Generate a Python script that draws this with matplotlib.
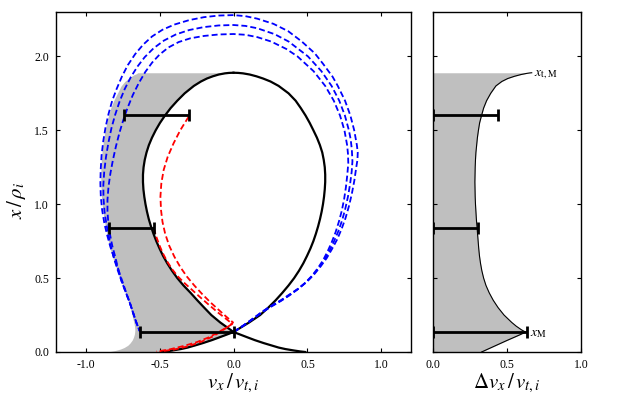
"""Phase-space orbit plot: x/rho_i against v_x/v_t,i, with the velocity spread panel."""

import matplotlib
import numpy as np

matplotlib.use("Agg")
import matplotlib.pyplot as plt  # noqa: E402
from matplotlib.ticker import FormatStrFormatter  # noqa: E402

plt.rcParams["font.family"] = ["Liberation Serif", "DejaVu Serif"]
plt.rcParams["mathtext.fontset"] = "stix"
plt.rcParams["axes.unicode_minus"] = False
plt.rcParams["lines.scale_dashes"] = False

# heights x / rho_i shared by the loop, the shading and the right panel
x_grid = [0.0, 0.004, 0.01, 0.02, 0.03, 0.045, 0.06, 0.08, 0.10, 0.12,
          0.135, 0.15, 0.175, 0.20, 0.25, 0.30, 0.35, 0.40, 0.45, 0.50,
          0.55, 0.60, 0.65, 0.70, 0.75, 0.80, 0.85, 0.90, 0.95, 1.00,
          1.05, 1.10, 1.15, 1.20, 1.25, 1.30, 1.35, 1.40, 1.45, 1.50,
          1.55, 1.60, 1.65, 1.70, 1.75, 1.80, 1.83, 1.85, 1.865, 1.877,
          1.885, 1.888, 1.889]
loop_vx_right = [0.485, 0.45, 0.41, 0.35, 0.305, 0.255, 0.205, 0.145, 0.092, 0.04,
                 0.0, 0.024, 0.065, 0.106, 0.18, 0.235, 0.285, 0.33, 0.372, 0.41,
                 0.443, 0.472, 0.497, 0.52, 0.54, 0.557, 0.572, 0.585, 0.596, 0.605,
                 0.612, 0.617, 0.62, 0.62, 0.617, 0.61, 0.60, 0.584, 0.564, 0.54,
                 0.515, 0.487, 0.455, 0.42, 0.372, 0.305, 0.25, 0.20, 0.155, 0.11,
                 0.064, 0.032, 0.0]
loop_vx_left = [-0.49, -0.455, -0.415, -0.355, -0.31, -0.258, -0.208, -0.147, -0.093, -0.04,
                0.0, -0.02, -0.055, -0.09, -0.15, -0.198, -0.245, -0.29, -0.338, -0.38,
                -0.416, -0.448, -0.476, -0.50, -0.522, -0.541, -0.558, -0.573, -0.585, -0.595,
                -0.603, -0.609, -0.612, -0.612, -0.608, -0.60, -0.588, -0.572, -0.551, -0.526,
                -0.497, -0.463, -0.425, -0.38, -0.33, -0.268, -0.22, -0.18, -0.14, -0.10,
                -0.058, -0.03, 0.0]
shade_vx_left = [-0.86, -0.83, -0.80, -0.764, -0.74, -0.715, -0.70, -0.685, -0.676, -0.67,
                 -0.668, -0.667, -0.669, -0.674, -0.686, -0.698, -0.713, -0.73, -0.748, -0.767,
                 -0.786, -0.804, -0.82, -0.834, -0.846, -0.857, -0.866, -0.875, -0.882, -0.888,
                 -0.892, -0.895, -0.897, -0.897, -0.896, -0.893, -0.889, -0.883, -0.876, -0.867,
                 -0.857, -0.845, -0.83, -0.81, -0.785, -0.76, -0.735, -0.71, -0.69, -0.67,
                 -0.651, -0.651, -0.651]
delta_vx = [0.328, 0.337, 0.35, 0.372, 0.394, 0.427, 0.46, 0.504, 0.55, 0.595,
            0.625, 0.598, 0.562, 0.532, 0.48, 0.44, 0.407, 0.38, 0.358, 0.342,
            0.33, 0.321, 0.314, 0.309, 0.305, 0.301, 0.297, 0.293, 0.29, 0.287,
            0.285, 0.284, 0.283, 0.284, 0.285, 0.287, 0.29, 0.295, 0.30, 0.307,
            0.315, 0.328, 0.342, 0.362, 0.39, 0.425, 0.465, 0.505, 0.55, 0.595,
            0.635, 0.655, 0.667]

# blue dashed orbits (outer, middle, inner): right side upwards, then left side downwards
blue_outer_vx = [0.0, 0.05, 0.10, 0.15, 0.20, 0.26, 0.32, 0.38, 0.44, 0.495,
                 0.545, 0.59, 0.63, 0.665, 0.70, 0.73, 0.757, 0.78, 0.80, 0.817,
                 0.83, 0.838, 0.84, 0.834, 0.816, 0.79, 0.754, 0.705, 0.67, 0.605,
                 0.55, 0.462, 0.37, 0.27, 0.16, 0.08, 0.0,
                 -0.10, -0.20, -0.30, -0.40, -0.48, -0.55, -0.61, -0.665, -0.715, -0.755,
                 -0.79, -0.82, -0.845, -0.865, -0.88, -0.892, -0.898, -0.90, -0.897, -0.888,
                 -0.873, -0.854, -0.832, -0.808, -0.78, -0.752, -0.725, -0.70, -0.677, -0.657,
                 -0.642, -0.632]
blue_outer_x = [0.135, 0.168, 0.203, 0.24, 0.277, 0.315, 0.35, 0.39, 0.43, 0.474,
                0.525, 0.58, 0.635, 0.695, 0.76, 0.83, 0.905, 0.985, 1.07, 1.16,
                1.25, 1.30, 1.35, 1.40, 1.50, 1.60, 1.70, 1.80, 1.862, 1.95,
                2.02, 2.10, 2.17, 2.22, 2.255, 2.272, 2.279,
                2.276, 2.265, 2.245, 2.215, 2.18, 2.135, 2.08, 2.015, 1.94, 1.862,
                1.78, 1.70, 1.61, 1.52, 1.43, 1.33, 1.23, 1.14, 1.05, 0.96,
                0.87, 0.79, 0.71, 0.64, 0.56, 0.48, 0.40, 0.33, 0.26, 0.20,
                0.16, 0.138]
blue_middle_vx = [0.0, 0.05, 0.10, 0.15, 0.20, 0.26, 0.32, 0.38, 0.437, 0.49,
                  0.537, 0.58, 0.617, 0.65, 0.68, 0.71, 0.735, 0.756, 0.774, 0.788,
                  0.799, 0.804, 0.80, 0.792, 0.78, 0.753, 0.715, 0.663, 0.594, 0.503,
                  0.373, 0.278, 0.161, 0.08, 0.0,
                  -0.10, -0.20, -0.30, -0.39, -0.47, -0.54, -0.60, -0.65, -0.695, -0.735,
                  -0.77, -0.80, -0.825, -0.845, -0.862, -0.874, -0.88, -0.879, -0.872, -0.86,
                  -0.845, -0.828, -0.81, -0.785, -0.757, -0.727, -0.70, -0.677, -0.657, -0.642,
                  -0.632]
blue_middle_x = [0.135, 0.167, 0.202, 0.238, 0.275, 0.312, 0.347, 0.387, 0.427, 0.471,
                 0.52, 0.573, 0.628, 0.687, 0.75, 0.82, 0.893, 0.97, 1.052, 1.135,
                 1.22, 1.29, 1.37, 1.44, 1.50, 1.60, 1.70, 1.80, 1.90, 2.00,
                 2.10, 2.15, 2.19, 2.206, 2.212,
                 2.209, 2.198, 2.178, 2.148, 2.107, 2.055, 1.995, 1.93, 1.858, 1.78,
                 1.695, 1.605, 1.515, 1.42, 1.32, 1.22, 1.13, 1.04, 0.95, 0.87,
                 0.79, 0.71, 0.64, 0.56, 0.48, 0.40, 0.33, 0.26, 0.20, 0.16,
                 0.138]
blue_inner_vx = [0.0, 0.05, 0.10, 0.15, 0.20, 0.26, 0.32, 0.38, 0.435, 0.485,
                 0.53, 0.57, 0.605, 0.635, 0.663, 0.69, 0.712, 0.732, 0.748, 0.76,
                 0.769, 0.776, 0.774, 0.768, 0.75, 0.72, 0.678, 0.62, 0.541, 0.432,
                 0.357, 0.255, 0.161, 0.08, 0.0,
                 -0.10, -0.20, -0.292, -0.37, -0.44, -0.50, -0.55, -0.596, -0.64, -0.68,
                 -0.715, -0.745, -0.772, -0.795, -0.815, -0.832, -0.845, -0.852, -0.852, -0.846,
                 -0.834, -0.82, -0.80, -0.78, -0.757, -0.727, -0.70, -0.677, -0.657, -0.642,
                 -0.632]
blue_inner_x = [0.135, 0.167, 0.201, 0.237, 0.273, 0.31, 0.345, 0.384, 0.425, 0.468,
                0.515, 0.567, 0.62, 0.678, 0.74, 0.81, 0.88, 0.955, 1.035, 1.115,
                1.195, 1.277, 1.34, 1.40, 1.50, 1.60, 1.70, 1.80, 1.90, 2.00,
                2.05, 2.10, 2.13, 2.146, 2.151,
                2.148, 2.138, 2.122, 2.097, 2.06, 2.012, 1.958, 1.895, 1.82, 1.74,
                1.655, 1.57, 1.48, 1.39, 1.30, 1.21, 1.12, 1.03, 0.95, 0.87,
                0.79, 0.72, 0.645, 0.565, 0.48, 0.40, 0.33, 0.26, 0.20, 0.16,
                0.138]

# red dashed orbits starting at the right end of the upper two bars
red_top_vx = [-0.303, -0.36, -0.405, -0.445, -0.472, -0.488, -0.494, -0.49, -0.48, -0.462,
              -0.435, -0.40, -0.36, -0.315, -0.265, -0.21, -0.155, -0.10, -0.05, -0.015,
              -0.003, -0.02, -0.07, -0.14, -0.22, -0.31, -0.40, -0.50]
red_top_x = [1.592, 1.50, 1.412, 1.32, 1.232, 1.14, 1.051, 0.96, 0.88, 0.80,
             0.72, 0.645, 0.575, 0.51, 0.45, 0.39, 0.335, 0.285, 0.24, 0.21,
             0.20, 0.185, 0.148, 0.105, 0.068, 0.038, 0.017, 0.003]
red_mid_vx = [-0.539, -0.522, -0.50, -0.478, -0.45, -0.415, -0.375, -0.33, -0.28, -0.225,
              -0.165, -0.105, -0.055, -0.02, -0.008, -0.04, -0.10, -0.17, -0.25, -0.34,
              -0.43, -0.52]
red_mid_x = [0.838, 0.78, 0.72, 0.669, 0.615, 0.56, 0.51, 0.465, 0.42, 0.37,
             0.318, 0.267, 0.228, 0.20, 0.19, 0.17, 0.135, 0.098, 0.066, 0.04,
             0.018, 0.003]

# horizontal bars: height, left and right ends; width in the right panel
bar_x = [1.60, 0.838, 0.135]
bar_lo = [-0.742, -0.843, -0.63]
bar_hi = [-0.303, -0.539, 0.0]
bar_width = [0.44, 0.305, 0.633]

GRAY = "0.75"
DASH = (4.3, 2.2)

fig = plt.figure(figsize=(6.23, 3.99), dpi=100)
ax = fig.add_axes([56 / 623, 47 / 399, 355 / 623, 340 / 399])
ax2 = fig.add_axes([433 / 623, 47 / 399, 148 / 623, 340 / 399])

# left panel
ax.fill_betweenx(x_grid, shade_vx_left, loop_vx_left, color=GRAY, lw=0, zorder=1)
ax.plot(loop_vx_right, x_grid, color="k", lw=1.6, zorder=2)
ax.plot(loop_vx_left, x_grid, color="k", lw=1.6, zorder=2)
for vx, xx in [(blue_outer_vx, blue_outer_x), (blue_middle_vx, blue_middle_x),
               (blue_inner_vx, blue_inner_x)]:
    ax.plot(vx, xx, color="b", lw=1.3, dashes=DASH, zorder=3)
for vx, xx in [(red_top_vx, red_top_x), (red_mid_vx, red_mid_x)]:
    ax.plot(vx, xx, color="r", lw=1.3, dashes=DASH, zorder=3)

lo = np.array(bar_lo)
hi = np.array(bar_hi)
ax.errorbar((lo + hi) / 2, bar_x, xerr=(hi - lo) / 2, fmt="none", ecolor="k",
            elinewidth=2, capsize=4, capthick=2, zorder=4)

ax.set_xlim(-1.2, 1.2)
ax.set_ylim(0, 2.3)
ax.set_xticks([-1.0, -0.5, 0.0, 0.5, 1.0])
ax.set_yticks([0.0, 0.5, 1.0, 1.5, 2.0])
ax.set_xlabel(r"$v_x\,/\,v_{t,i}$", fontsize=15, labelpad=1)
ax.set_ylabel(r"$x\,/\,\rho_i$", fontsize=15)
ax.yaxis.set_label_coords(-0.08, 0.445)

# right panel
width = np.array(bar_width)
ax2.fill_betweenx(x_grid, 0, delta_vx, color=GRAY, lw=0, zorder=1)
ax2.plot(delta_vx, x_grid, color="k", lw=0.8, zorder=2)
ax2.errorbar(width / 2, bar_x, xerr=width / 2, fmt="none", ecolor="k",
             elinewidth=2, capsize=4, capthick=2, zorder=4)
ax2.text(0.685, 1.875, r"$x_{\rm t,M}$", fontsize=10, ha="left", va="center")
ax2.text(0.655, 0.125, r"$x_{\rm M}$", fontsize=10, ha="left", va="center")
ax2.set_xlim(0, 1.0)
ax2.set_ylim(0, 2.3)
ax2.set_xticks([0.0, 0.5, 1.0])
ax2.set_yticks([0.0, 0.5, 1.0, 1.5, 2.0])
ax2.set_yticklabels([])
ax2.set_xlabel(r"$\Delta v_x\,/\,v_{t,i}$", fontsize=15, labelpad=1)

for a in (ax, ax2):
    a.xaxis.set_major_formatter(FormatStrFormatter("%.1f"))
    a.tick_params(direction="in", top=True, right=True, length=3, width=0.8,
                  labelsize=8.5, pad=5)
    for spine in a.spines.values():
        spine.set_linewidth(1.0)
ax.yaxis.set_major_formatter(FormatStrFormatter("%.1f"))

fig.savefig("out.png", dpi=100)
plt.close(fig)
